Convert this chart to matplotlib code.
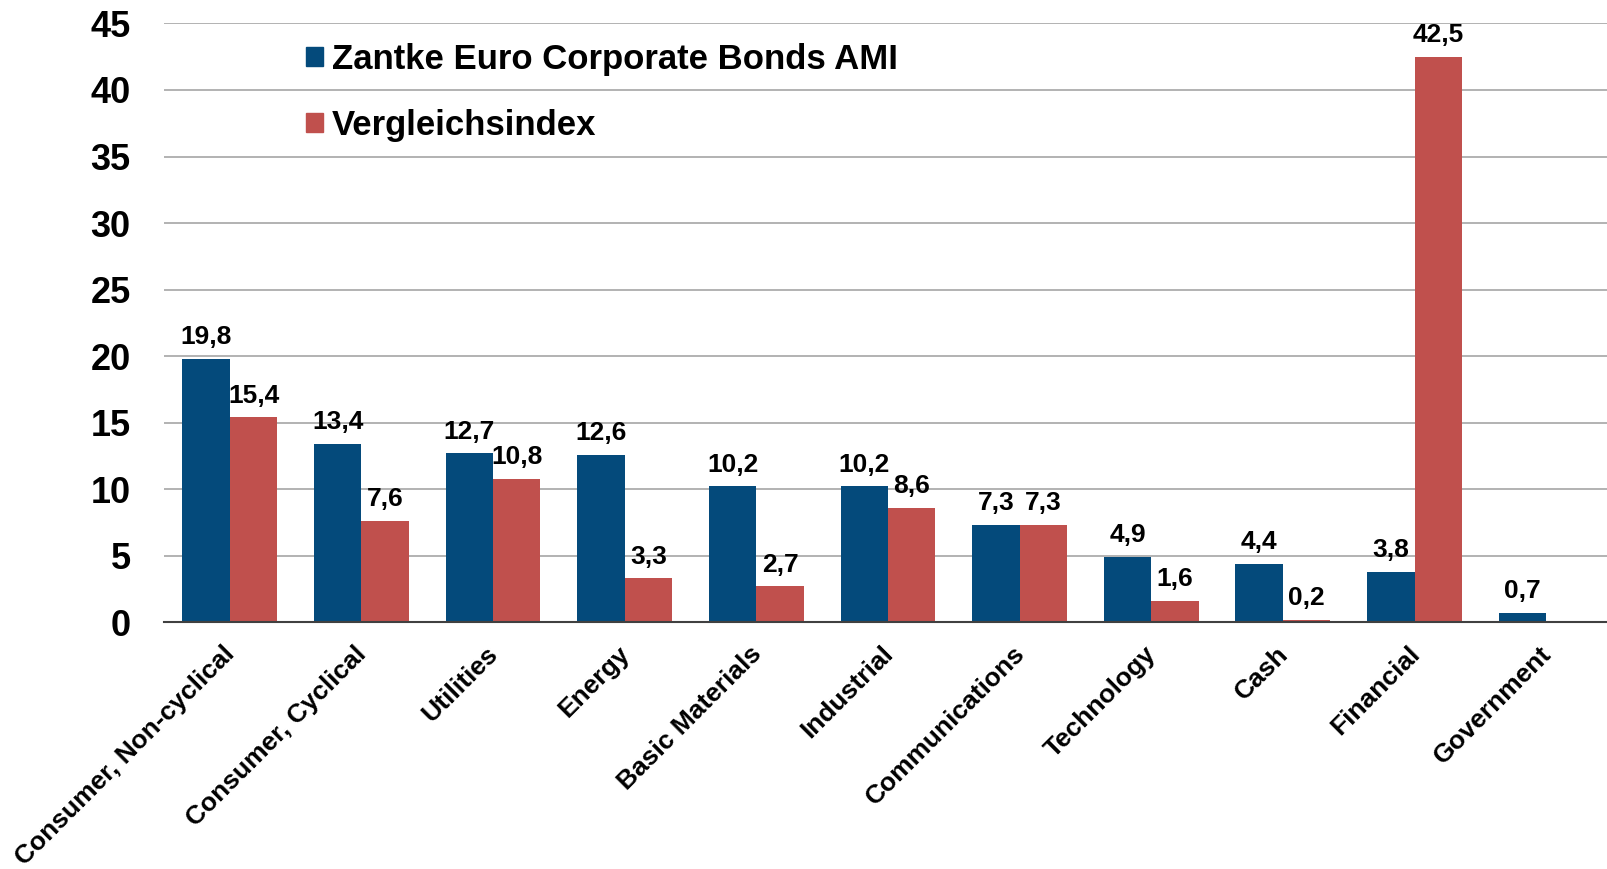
import matplotlib
matplotlib.use("Agg")
import matplotlib.pyplot as plt
import numpy as np
from matplotlib.patches import Patch
from matplotlib.transforms import ScaledTranslation

categories = ["Consumer, Non-cyclical", "Consumer, Cyclical", "Utilities", "Energy",
              "Basic Materials", "Industrial", "Communications", "Technology",
              "Cash", "Financial", "Government"]
fund = [19.8, 13.4, 12.7, 12.6, 10.2, 10.2, 7.3, 4.9, 4.4, 3.8, 0.7]
index = [15.4, 7.6, 10.8, 3.3, 2.7, 8.6, 7.3, 1.6, 0.2, 42.5, None]
series_names = ["Zantke Euro Corporate Bonds AMI", "Vergleichsindex"]
yticks = [0, 5, 10, 15, 20, 25, 30, 35, 40, 45]

BLUE = "#044a7b"
RED = "#c0504d"

plt.rcParams['font.family'] = ['Liberation Sans', 'DejaVu Sans']
plt.rcParams['font.weight'] = 'bold'

fig = plt.figure(figsize=(16.08, 8.69), dpi=100)
ax = fig.add_axes([0.102, 0.284, 0.898, 0.689])

x = np.arange(len(categories))
w = 0.36
fv = np.array(fund, dtype=float)
iv = np.array([v if v is not None else np.nan for v in index], dtype=float)

ax.bar(x - w/2, fv, width=w, color=BLUE, zorder=3)
mask = ~np.isnan(iv)
ax.bar(x[mask] + w/2, iv[mask], width=w, color=RED, zorder=3)

def fmt(v):
    return f"{v:.1f}".replace(".", ",")

for xi, v in zip(x, fv):
    ax.annotate(fmt(v), (xi - w/2, v), xytext=(0, 7), textcoords="offset points",
                ha="center", va="bottom", fontsize=19, fontweight="bold")
for xi, v in zip(x[mask], iv[mask]):
    ax.annotate(fmt(v), (xi + w/2, v), xytext=(0, 7), textcoords="offset points",
                ha="center", va="bottom", fontsize=19, fontweight="bold")

ax.set_ylim(0, 45)
ax.set_xlim(-0.5, 10.47)
ax.set_yticks(yticks)
ax.set_yticklabels([str(t) for t in yticks], fontsize=26, fontweight="bold")
ax.yaxis.grid(True, color="#a6a6a6", linewidth=1.2, zorder=0)
ax.set_axisbelow(True)
for s in ["top", "right", "left"]:
    ax.spines[s].set_visible(False)
ax.spines["bottom"].set_color("#404040")
ax.spines["bottom"].set_linewidth(1.5)
ax.spines["bottom"].set_zorder(4)
ax.tick_params(axis="both", length=0)
ax.tick_params(axis="y", pad=24)

ax.set_xticks(x)
ax.set_xticklabels(categories, rotation=45, ha="right", va="top",
                   rotation_mode="anchor", fontsize=19, fontweight="bold")
ax.tick_params(axis="x", pad=14)
for lbl in ax.get_xticklabels():
    lbl.set_transform(lbl.get_transform() + ScaledTranslation(-0.07, 0, fig.dpi_scale_trans))

handles = [Patch(color=BLUE), Patch(color=RED)]
ax.legend(handles, series_names, loc="upper left", bbox_to_anchor=(0.0765, 1.02),
          frameon=False, prop={"weight": "bold", "size": 25},
          handlelength=0.5, handleheight=0.5, handletextpad=0.25, labelspacing=0.95)

fig.savefig("out.png", dpi=100)
